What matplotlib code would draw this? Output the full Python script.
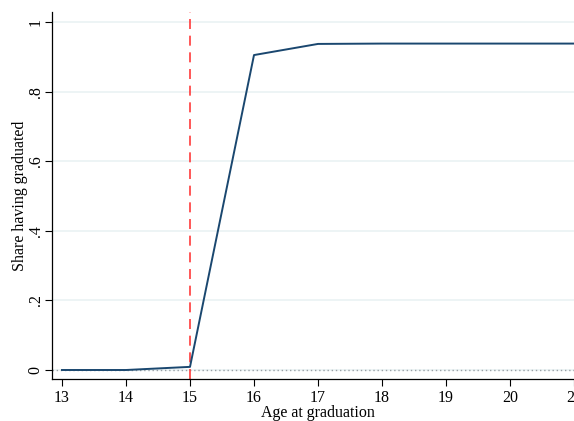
import matplotlib
matplotlib.use("Agg")
import matplotlib.pyplot as plt

ages = [13, 14, 15, 16, 17, 18, 19, 20, 21]
share = [0.0, 0.0, 0.009, 0.905, 0.937, 0.938, 0.938, 0.938, 0.938]
xticks = [13, 14, 15, 16, 17, 18, 19, 20, 21]
yticks = [0, 0.2, 0.4, 0.6, 0.8, 1.0]
ytick_labels = ["0", ".2", ".4", ".6", ".8", "1"]
cutoff = 15

plt.rcParams['font.family'] = ['Liberation Serif', 'DejaVu Serif']

fig = plt.figure(figsize=(5.74, 4.21), dpi=100)
ax_left, ax_bottom_px, ax_top_px = 52, 379, 12
ax = fig.add_axes([ax_left/574, (421-ax_bottom_px)/421, 1 - ax_left/574, (ax_bottom_px-ax_top_px)/421])

for y in yticks:
    ax.axhline(y, color='#eaf2f3', lw=1.2, zorder=0)
ax.axhline(0, color='#9aa0a6', lw=1.0, ls=(0, (1, 2)), zorder=1)
ax.axvline(cutoff, color='#ff3b3b', lw=1.2, ls=(0, (6, 4)), zorder=2)
ax.plot(ages, share, color='#1a476f', lw=1.4, zorder=3)

ax.set_xlim(13 - 10/64, 21)
ax.set_ylim(-9/348, 1 + 10/348)
ax.set_xticks(xticks)
ax.set_xticklabels([str(v) for v in xticks])
ax.set_yticks(yticks)
ax.set_yticklabels(ytick_labels, rotation=90, va='center')
ax.tick_params(axis='both', direction='out', length=5, width=0.8, labelsize=11.5, colors='black')
ax.tick_params(axis='x', pad=3)
ax.tick_params(axis='y', pad=1)
ax.spines['top'].set_visible(False)
ax.spines['right'].set_visible(False)
ax.spines['left'].set_linewidth(0.9)
ax.spines['bottom'].set_linewidth(0.9)
ax.set_xlabel('Age at graduation', fontsize=11.5)
ax.set_ylabel('Share having graduated', fontsize=11.5)
ax.xaxis.label.set_va('center')
ax.yaxis.label.set_va('center')
ax.xaxis.set_label_coords((318-52)/522, (379-413)/367)
ax.yaxis.set_label_coords((20-52)/522, 0.5)

fig.savefig('out.png', dpi=100)
